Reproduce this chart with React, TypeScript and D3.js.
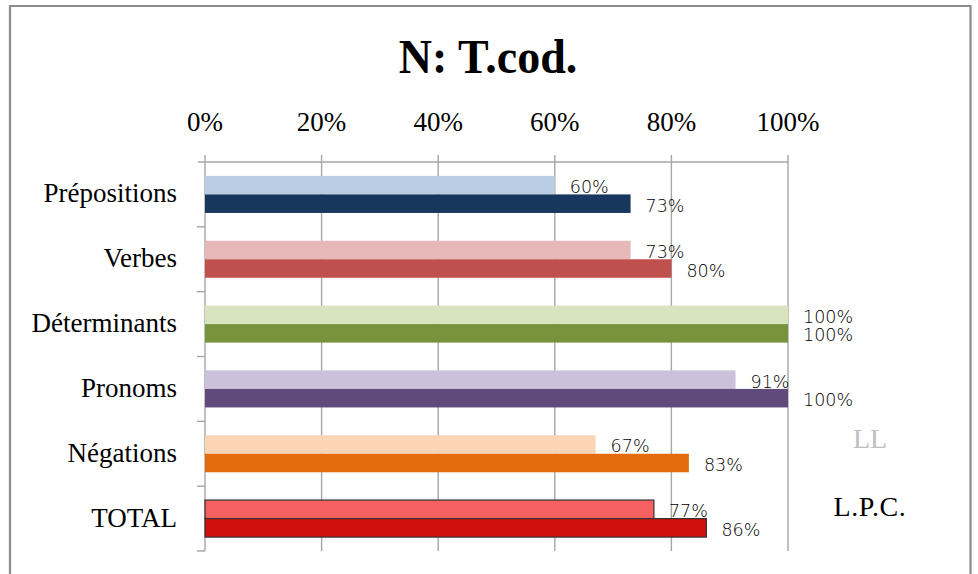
import React from "react";
import * as d3 from "d3";

const categories = ["Prépositions", "Verbes", "Déterminants", "Pronoms", "Négations", "TOTAL"];
const seriesKeys = ["LL", "L.P.C."];
const llValues = [0.6, 0.73, 1.0, 0.91, 0.67, 0.77];
const lpcValues = [0.73, 0.8, 1.0, 1.0, 0.83, 0.86];
const llColors = ["#B9CDE5", "#E6B9B8", "#D7E4BD", "#CCC1DA", "#FCD5B5", "#F66060"];
const lpcColors = ["#17375E", "#C0504D", "#77933C", "#604A7B", "#E46C0A", "#D0100C"];
const tickValues = [0, 0.2, 0.4, 0.6, 0.8, 1.0];
const title = "N: T.cod.";

export default function App() {
  const W = 978;
  const H = 574;
  const x = d3.scaleLinear().domain([0, 1]).range([205, 788]);
  const y = d3.scaleBand<string>().domain(categories).range([162, 551]).padding(0);
  const ys = d3
    .scaleBand<string>()
    .domain(seriesKeys)
    .range([0, y.bandwidth()])
    .paddingInner(0)
    .paddingOuter(0.75);
  const pct = d3.format(".0%");
  const serif = "'Liberation Serif', 'Times New Roman', serif";
  const sans = "'DejaVu Sans', Verdana, sans-serif";
  const gridColor = "#A6A6A6";

  const series = [
    { key: "LL", values: llValues, colors: llColors },
    { key: "L.P.C.", values: lpcValues, colors: lpcColors },
  ];

  return (
    <svg
      width={W}
      height={H}
      style={{ position: "absolute", left: 0, top: 0, background: "#fff" }}
    >
      {/* frame */}
      <path d="M10,580 L10,6 L970.5,6 L970.5,580" fill="none" stroke="#8C8C8C" strokeWidth={2.2} />

      {/* title */}
      <text
        x={488}
        y={73}
        textAnchor="middle"
        fontFamily={serif}
        fontWeight="bold"
        fontSize={46}
        fill="#000"
        transform="translate(0,73) scale(1,1.07) translate(0,-73)"
      >
        {title}
      </text>

      {/* top axis tick labels */}
      {tickValues.map((t) => (
        <text
          key={"tl" + t}
          x={x(t)}
          y={131}
          textAnchor="middle"
          fontFamily={serif}
          fontSize={27}
          fill="#000"
        >
          {pct(t)}
        </text>
      ))}

      {/* gridlines + top ticks */}
      {tickValues.map((t) => (
        <line
          key={"g" + t}
          x1={x(t)}
          x2={x(t)}
          y1={155}
          y2={551}
          stroke={gridColor}
          strokeWidth={1.4}
        />
      ))}
      {/* top axis line */}
      <line x1={198} x2={x(1)} y1={162} y2={162} stroke={gridColor} strokeWidth={1.4} />

      {/* category axis ticks */}
      {categories.map((c) => (
        <line
          key={"ct" + c}
          x1={197}
          x2={205}
          y1={(y(c) as number) + y.bandwidth()}
          y2={(y(c) as number) + y.bandwidth()}
          stroke={gridColor}
          strokeWidth={1.4}
        />
      ))}

      {/* bars */}
      {series.map((s) =>
        categories.map((c, i) => {
          const by = (y(c) as number) + (ys(s.key) as number);
          const isTotal = c === "TOTAL";
          return (
            <rect
              key={s.key + c}
              x={x(0)}
              y={by}
              width={x(s.values[i]) - x(0)}
              height={ys.bandwidth()}
              fill={s.colors[i]}
              stroke={isTotal ? "#333" : "none"}
              strokeWidth={isTotal ? 1.2 : 0}
            />
          );
        })
      )}

      {/* data labels */}
      {series.map((s) =>
        categories.map((c, i) => {
          const by = (y(c) as number) + (ys(s.key) as number) + ys.bandwidth() / 2;
          return (
            <text
              key={"l" + s.key + c}
              x={x(s.values[i]) + 15}
              y={by + 8}
              fontFamily={sans}
              fontWeight={200}
              fontSize={17.5}
              fill="#000"
            >
              {pct(s.values[i])}
            </text>
          );
        })
      )}

      {/* category labels */}
      {categories.map((c) => (
        <text
          key={"cl" + c}
          x={177}
          y={(y(c) as number) + y.bandwidth() / 2 + 8}
          textAnchor="end"
          fontFamily={serif}
          fontSize={27}
          fill="#000"
        >
          {c}
        </text>
      ))}

      {/* legend (text only) */}
      <text x={870} y={448} textAnchor="middle" fontFamily={serif} fontSize={28} fill="#BFBFBF">
        {seriesKeys[0]}
      </text>
      <text
        x={870}
        y={516}
        textAnchor="middle"
        fontFamily={serif}
        fontSize={28}
        letterSpacing={0.6}
        fill="#000"
      >
        {seriesKeys[1]}
      </text>
    </svg>
  );
}
